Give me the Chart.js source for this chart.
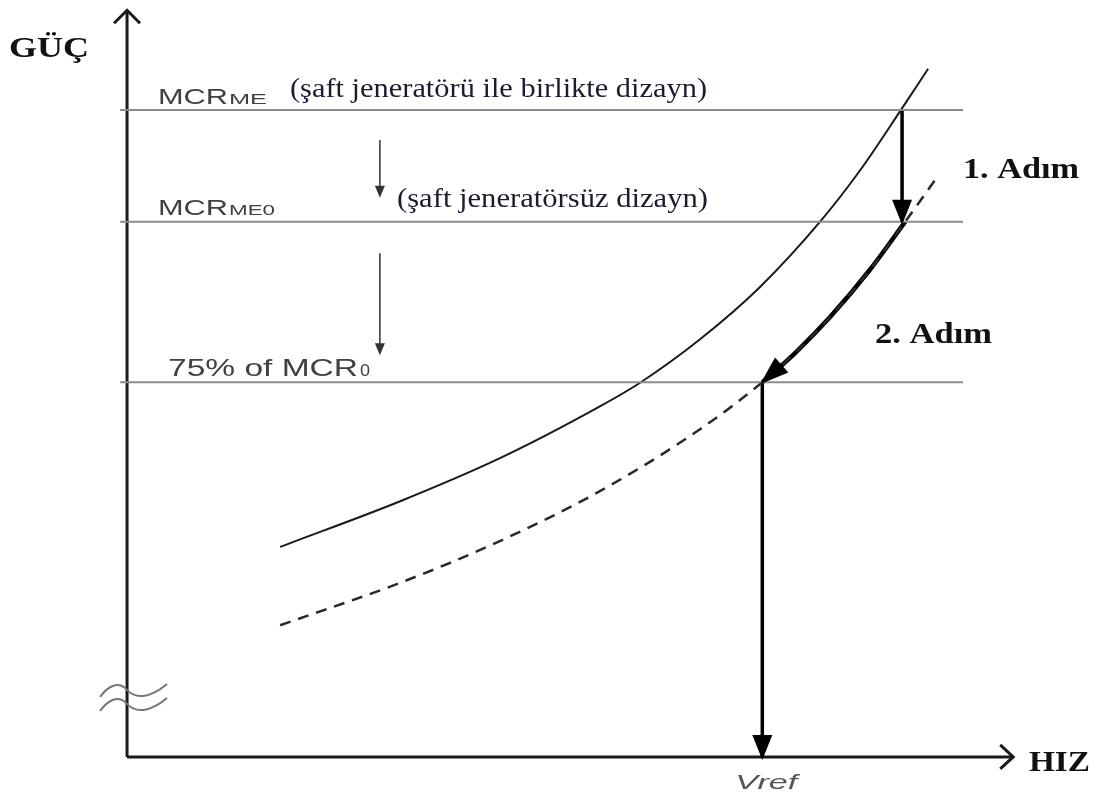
<!DOCTYPE html>
<html>
<head>
<meta charset="utf-8">
<title>GÜÇ - HIZ</title>
<script src="https://cdn.jsdelivr.net/npm/chart.js@4.4.1/dist/chart.umd.min.js"></script>
<style>
  html, body { margin: 0; padding: 0; background: #fff; }
  canvas { display: block; }
</style>
</head>
<body>
<canvas id="chart" width="1099" height="800"></canvas>
<script>
// ---------- DATA ----------
// speed in % of Vref, power in % of MCR0 (power axis is broken below)
const speedSolid  = [24.1, 43.0, 58.7, 74.5, 80.7, 90.2, 99.6, 109.1, 115.4, 121.7, 126.1];
const powerSolid  = [49.4, 56.5, 63.2, 71.3, 74.9, 81.7, 89.8, 100.0, 108.0, 117.2, 123.8];

const speedDashed = [24.1, 43.0, 58.7, 74.5, 90.2, 100, 105.2, 110.7, 117.0, 122.5, 127.2];
const powerDashed = [37.2, 43.8, 50.3, 58.1, 67.7, 75.0, 79.6, 85.2, 92.6, 100.0, 106.5];

// 2. Adım : along the dashed curve, arrow tip at first point
const speedStep2  = [100, 105.2, 110.7, 117.0, 122.5];
const powerStep2  = [75.0, 79.6, 85.2, 92.6, 100.0];

// 1. Adım : straight down from MCRme to MCRme0
const speedStep1  = [122, 122];
const powerStep1  = [117.4, 100];

const levelPower  = [117.4, 100, 75];          // MCRme, MCRme0, 75% of MCR0
const levelSpeed  = [-1.1, 131.6];
const speedRef    = [100, 100];                // Vref
const powerRef    = [75, 16.7];

const hintSpeed   = [39.8, 39.8];
const hintPowerA  = [112.7, 104.2];
const hintPowerB  = [95.1, 79.7];

const axisBase    = 16.7;                      // where the speed axis sits
const axisSpeed   = [0, 139.5];
const axisPower   = [16.7, 132.9];

const yTitle = "GÜÇ";
const xTitle = "HIZ";
const step1Text = "1. Adım";
const step2Text = "2. Adım";
const noteWith = "(şaft jeneratörü ile birlikte dizayn)";
const noteWithout = "(şaft jeneratörsüz dizayn)";

// ---------- HELPERS ----------
function pts(xs, ys) {
    return xs.map((v, i) => ({ x: v, y: ys[i] }));
}

function line(xs, ys, color, width, extra) {
    return Object.assign({
        data: pts(xs, ys),
        borderColor: color,
        borderWidth: width,
        pointRadius: 0,
        tension: 0,
        fill: false
    }, extra || {});
}

function head(ctx, x1, y1, x2, y2, len, half, color) {
    const a = Math.atan2(y2 - y1, x2 - x1);
    ctx.save();
    ctx.translate(x2, y2);
    ctx.rotate(a);
    ctx.beginPath();
    ctx.moveTo(3, 0);
    ctx.lineTo(-len, -half);
    ctx.lineTo(-len, half);
    ctx.closePath();
    ctx.fillStyle = color;
    ctx.fill();
    ctx.restore();
}

function chevron(ctx, x1, y1, x2, y2, len, half) {
    const a = Math.atan2(y2 - y1, x2 - x1);
    ctx.save();
    ctx.translate(x2, y2);
    ctx.rotate(a);
    ctx.beginPath();
    ctx.moveTo(-len, -half);
    ctx.lineTo(0, 0);
    ctx.lineTo(-len, half);
    ctx.strokeStyle = "#1a1a1a";
    ctx.lineWidth = 3;
    ctx.lineJoin = "miter";
    ctx.stroke();
    ctx.restore();
}

// draw text squeezed / stretched to a given width
function text(ctx, s, x, y, font, w, color) {
    ctx.save();
    ctx.font = font;
    ctx.fillStyle = color;
    ctx.textBaseline = "alphabetic";
    ctx.textAlign = "left";
    const m = ctx.measureText(s).width;
    ctx.translate(x, y);
    ctx.scale(w / m, 1);
    ctx.fillText(s, 0, 0);
    ctx.restore();
}

// ---------- OVERLAY ----------
const overlay = {
    id: "overlay",
    afterDatasetsDraw(chart) {
        const ctx = chart.ctx;
        const X = v => chart.scales.x.getPixelForValue(v);
        const Y = v => chart.scales.y.getPixelForValue(v);

        // axis arrows
        chevron(ctx, X(0), Y(axisBase), X(axisSpeed[1]), Y(axisBase), 13, 12);
        chevron(ctx, X(0), Y(axisBase), X(0), Y(axisPower[1]), 13, 13);

        // axis break
        const bx = X(0), by = Y(axisBase);
        ctx.save();
        ctx.strokeStyle = "#777";
        ctx.lineWidth = 2;
        [0, 14].forEach(d => {
            ctx.beginPath();
            ctx.moveTo(bx - 27, by - 60 + d);
            ctx.bezierCurveTo(bx - 18, by - 72 + d, bx - 8, by - 76 + d, bx, by - 67 + d);
            ctx.bezierCurveTo(bx + 8, by - 58 + d, bx + 22, by - 58 + d, bx + 40, by - 73 + d);
            ctx.stroke();
        });
        ctx.restore();

        // arrow heads
        head(ctx, X(speedStep1[0]), Y(powerStep1[0]), X(speedStep1[1]), Y(powerStep1[1]), 22, 10, "#000");
        head(ctx, X(speedRef[0]), Y(powerRef[0]), X(speedRef[1]), Y(powerRef[1]), 22, 10, "#000");
        head(ctx, X(speedStep2[1]), Y(powerStep2[1]), X(speedStep2[0]), Y(powerStep2[0]), 26, 10, "#000");
        head(ctx, X(hintSpeed[0]), Y(hintPowerA[0]), X(hintSpeed[1]), Y(hintPowerA[1]), 9, 5, "#333");
        head(ctx, X(hintSpeed[0]), Y(hintPowerB[0]), X(hintSpeed[1]), Y(hintPowerB[1]), 9, 5, "#333");

        // titles
        const bold = "bold 29px 'Liberation Serif', 'Times New Roman', serif";
        text(ctx, yTitle, 9, 57, bold, 80, "#111");
        text(ctx, xTitle, 1029, 771, bold, 61, "#111");
        text(ctx, step1Text, 963, 178, bold, 116, "#111");
        text(ctx, step2Text, 875, 343, bold, 117, "#111");

        const serif = "27px 'Liberation Serif', 'Times New Roman', serif";
        text(ctx, noteWith, 290, 97, serif, 417, "#1c1c2e");
        text(ctx, noteWithout, 397, 207, serif, 311, "#1c1c2e");

        // level labels
        const sans = "22px 'Liberation Sans', Arial, sans-serif";
        const sub = "14px 'Liberation Sans', Arial, sans-serif";
        const gray = "#404040";
        text(ctx, "MCR", 158, Y(levelPower[0]) - 6, sans, 70, gray);
        text(ctx, "ME", 229, Y(levelPower[0]) - 6, sub, 38, gray);
        text(ctx, "MCR", 158, Y(levelPower[1]) - 7, sans, 70, gray);
        text(ctx, "ME0", 229, Y(levelPower[1]) - 7, sub, 46, gray);
        text(ctx, "75% of MCR", 168, Y(levelPower[2]) - 6, "24px 'Liberation Sans', Arial, sans-serif", 190, gray);
        text(ctx, "0", 360, Y(levelPower[2]) - 6, "16px 'Liberation Sans', Arial, sans-serif", 10, gray);
        text(ctx, "Vref", X(speedRef[0]) - 27, 789, "italic 20px 'Liberation Sans', Arial, sans-serif", 62, "#555");
    }
};

// ---------- CHART ----------
const datasets = [];

levelPower.forEach(p => {
    datasets.push(line(levelSpeed, [p, p], "#8c8c8c", 2));
});

const smooth = { cubicInterpolationMode: "monotone" };

datasets.push(line(speedDashed, powerDashed, "#2a2a2a", 2.5, Object.assign({ borderDash: [11, 8] }, smooth)));
datasets.push(line(speedSolid, powerSolid, "#1a1a1a", 2, smooth));
datasets.push(line(speedStep2, powerStep2, "#000", 4.5, smooth));

datasets.push(line(speedStep1, powerStep1, "#000", 3.5));
datasets.push(line(speedRef, powerRef, "#000", 3.5));
datasets.push(line(hintSpeed, hintPowerA, "#333", 1.5));
datasets.push(line(hintSpeed, hintPowerB, "#333", 1.5));

// axes
datasets.push(line(axisSpeed, [axisBase, axisBase], "#1a1a1a", 3));
datasets.push(line([0, 0], axisPower, "#1a1a1a", 3));

new Chart(document.getElementById("chart"), {
    type: "line",
    data: { datasets: datasets },
    options: {
        responsive: false,
        animation: false,
        layout: { padding: 0 },
        plugins: {
            legend: { display: false },
            tooltip: { enabled: false }
        },
        scales: {
            x: { type: "linear", min: -20, max: 153, display: false },
            y: { type: "linear", min: 10, max: 134.5, display: false }
        }
    },
    plugins: [overlay]
});
</script>
</body>
</html>
